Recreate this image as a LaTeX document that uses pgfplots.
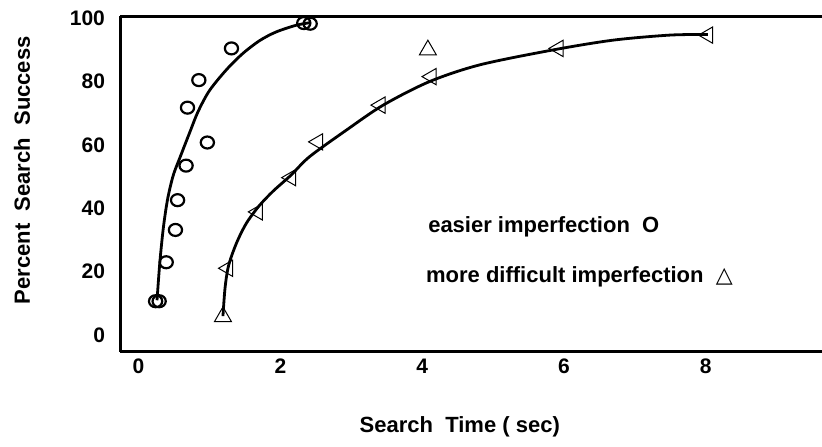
\documentclass[border=0pt]{standalone}
\usepackage{pgfplots}
\pgfplotsset{compat=1.18}
\usepackage{fontspec}
\setmainfont{Liberation Sans}
\newfontfamily\symfont{DejaVu Sans}
\begin{document}
\begin{tikzpicture}
\useasboundingbox (-60pt,-47.15pt) rectangle (351pt,175.9pt);
\begin{axis}[
  scale only axis, width=351pt, height=167.85pt,
  xmin=-0.262, xmax=9.639, ymin=-5.27, ymax=100.7,
  axis x line=box, axis y line=left,
  axis line style={-, line width=1.5pt},
  every outer y axis line/.append style={-},
  every inner y axis line/.append style={-},
  y axis line style={-},
  xtick={0,2,4,6,8}, ytick={0,20,40,60,80,100},
  xticklabel pos=lower,
  major tick length=0pt,
  /pgf/number format/assume math mode=true,
  tick label style={font=\bfseries\fontsize{10.5}{12}\selectfont},
  yticklabel style={xshift=-4pt},
  xlabel={Search\ \ Time ( sec)},
  ylabel={Percent\ \ Search\ \ Success},
  label style={font=\bfseries\fontsize{11}{13}\selectfont},
  xlabel style={at={(axis description cs:0.484,-0.224)}, anchor=center},
  ylabel style={at={(axis description cs:-0.1396,0.541)}, anchor=center},
  clip=false,
]
% easier imperfection: fitted curve
\addplot[no marks, line width=1.4pt, smooth, tension=0.5] coordinates {
(0.26,11) (0.30,23) (0.35,34) (0.41,43) (0.49,50.5) (0.60,57) (0.72,63.9) (0.84,70.6) (1.00,77.2) (1.24,83.8) (1.47,88.9) (1.71,93.0) (1.94,95.7) (2.22,97.8) (2.41,98.6)
};
% easier imperfection: data
\addplot[only marks, mark=o, mark size=3pt, mark options={line width=1.1pt, xscale=1.1}] coordinates {
(0.24,10.7) (0.29,10.7) (0.39,23.0) (0.52,33.2) (0.55,42.6) (0.67,53.5) (0.97,60.8) (0.69,71.8) (0.85,80.5) (1.31,90.5) (2.33,98.5) (2.42,98.3)
};
% more difficult imperfection: fitted curve
\addplot[no marks, line width=1.4pt, smooth, tension=0.5] coordinates {
(1.19,6) (1.22,15) (1.27,22) (1.38,29.0) (1.52,35.3) (1.70,40.8) (1.90,45.5) (2.15,50.5) (2.41,56.3) (2.93,64.7) (3.45,72.6) (4.10,80.0) (4.81,85.3) (5.84,90.0) (6.69,93.1) (7.49,94.7) (8.03,94.9)
};
% more difficult imperfection: data (on the curve)
\addplot[only marks, mark=triangle, mark size=4.7pt, mark options={line width=0.5pt, rotate=90}] coordinates {
(1.26,21.1) (1.68,38.9) (2.15,49.7) (2.53,61.0) (3.41,72.6) (4.13,81.6) (5.92,90.5) (8.03,94.7)
};
% more difficult imperfection: data (up triangles)
\addplot[only marks, mark=triangle, mark size=4.9pt, mark options={line width=0.5pt}] coordinates {
(1.19,5.8) (4.08,90.0)
};
\node[anchor=west, inner sep=0pt, font=\bfseries\fontsize{11}{13}\selectfont] at (axis cs:4.08,34.1) {easier imperfection\ \ O};
\node[anchor=west, inner sep=0pt, font=\bfseries\fontsize{11}{13}\selectfont] at (axis cs:4.05,18.3) {more difficult imperfection\ \ {\symfont\mdseries △}};
\end{axis}
\end{tikzpicture}
\end{document}
